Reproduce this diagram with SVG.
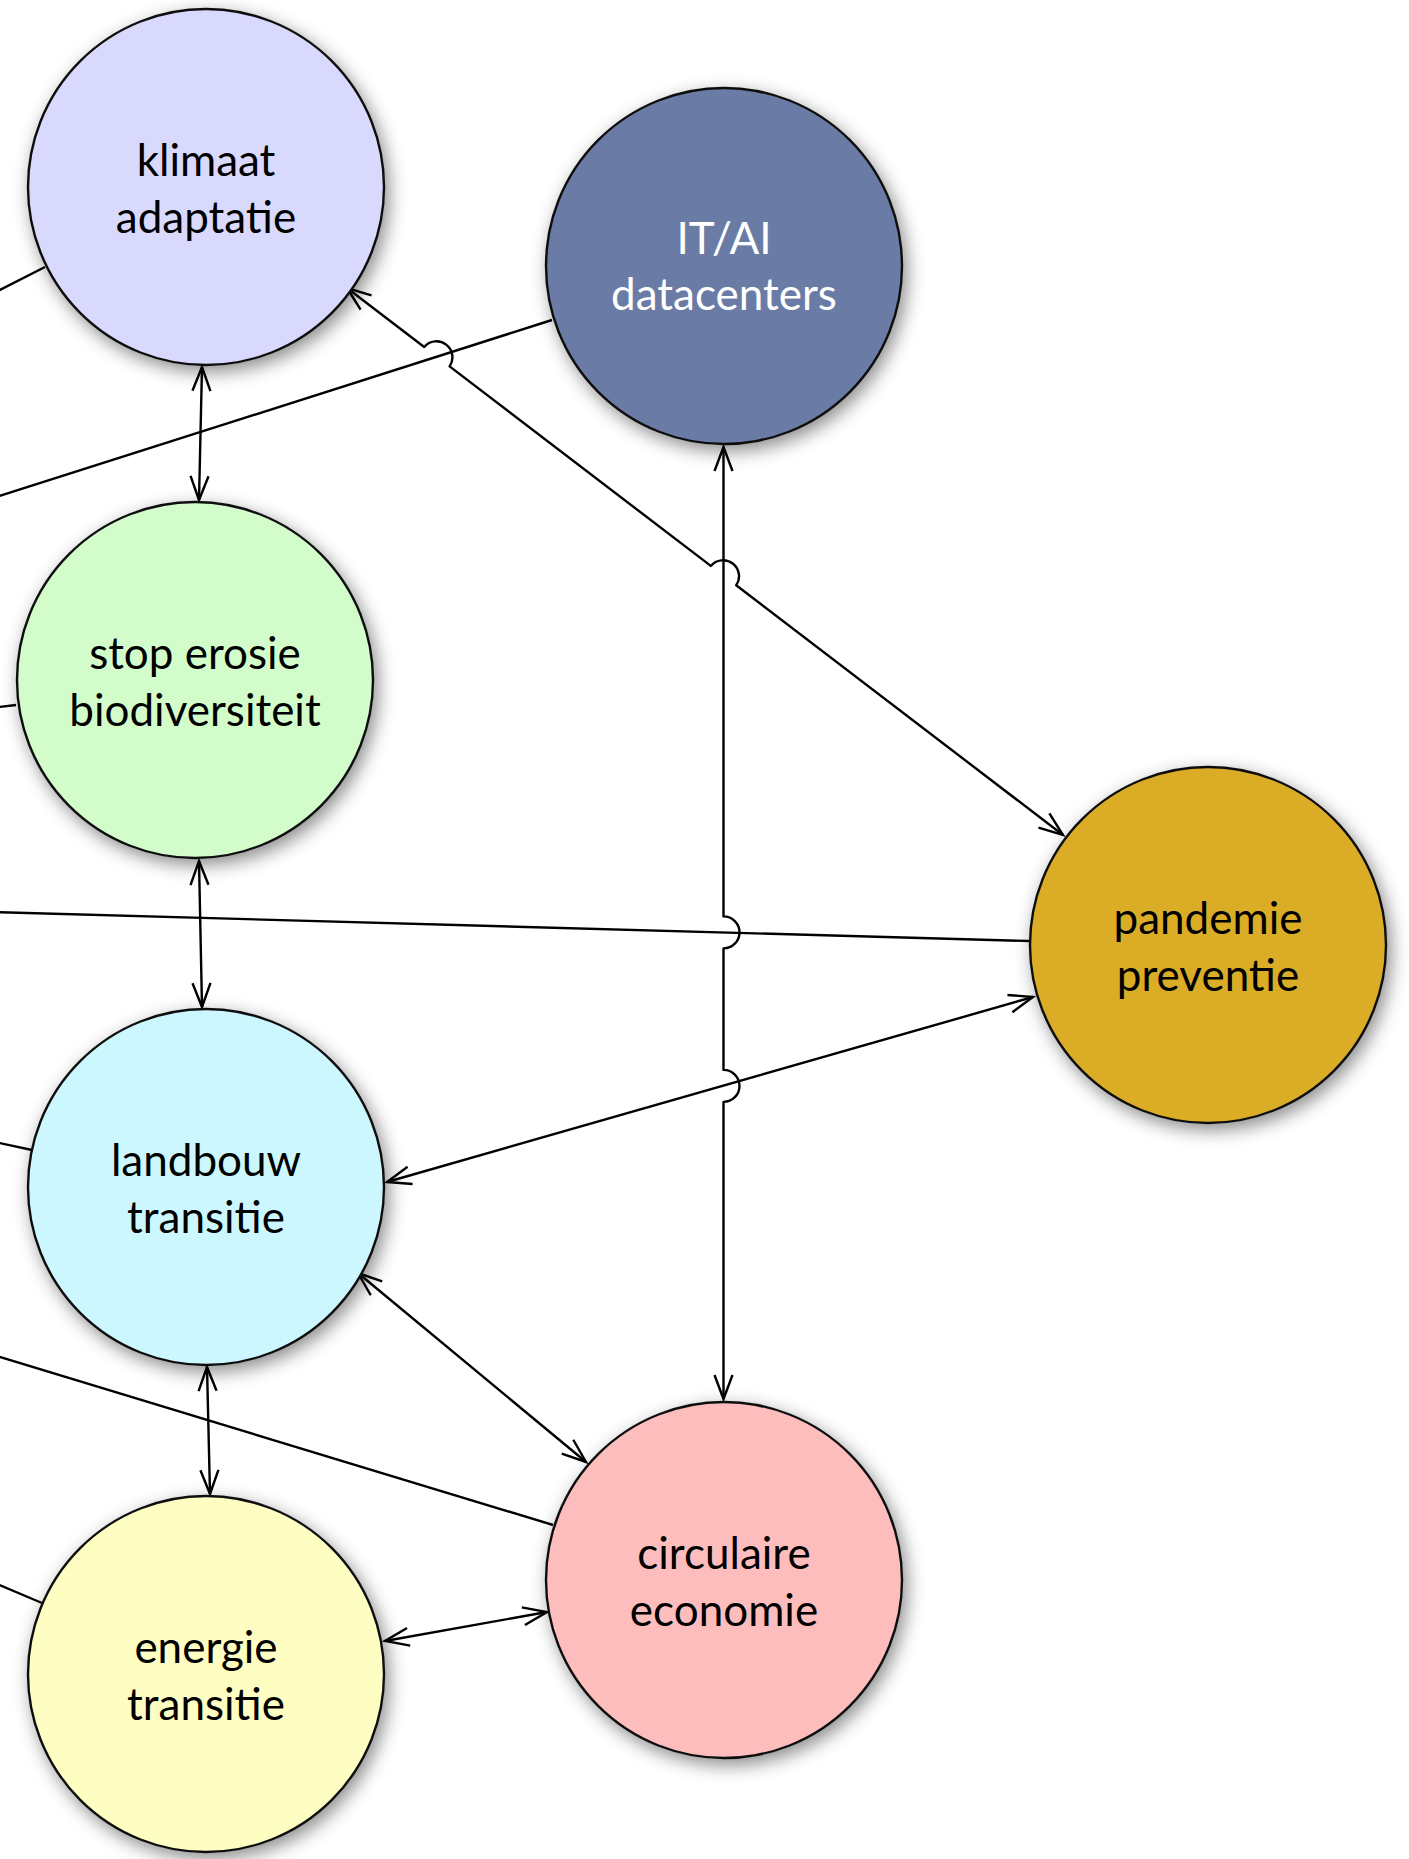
<svg xmlns="http://www.w3.org/2000/svg" width="1409" height="1859" viewBox="0 0 1409 1859">
  <defs>
    <style>
      .node { stroke: #111; stroke-width: 2.4; filter: url(#shadow); }
      .lbl { font-family: Lato, "Open Sans", sans-serif; font-size: 44px; text-anchor: middle; fill: #000; }
      .lbl.light { fill: #fff; }
      .edge { fill: none; stroke: #000; stroke-width: 2.4; stroke-linejoin: round; }
      .arr { marker-start: url(#ah); marker-end: url(#ah); }
    </style>
    <filter id="shadow" x="-30%" y="-30%" width="160%" height="160%">
      <feDropShadow dx="4" dy="6" stdDeviation="9" flood-color="#000" flood-opacity="0.45"/>
    </filter>
    <marker id="ah" markerUnits="userSpaceOnUse" viewBox="-28 -12 30 24" refX="0" refY="0" markerWidth="30" markerHeight="24" orient="auto-start-reverse" overflow="visible">
      <path d="M-24,-9 L0,0 L-24,9" fill="none" stroke="#000" stroke-width="2.4" stroke-linejoin="miter"/>
    </marker>
  </defs>
  <rect width="1409" height="1859" fill="#fff"/>

  <g id="connectors">
    <path class="edge" d="M-10,295 L45,267"/>
    <path class="edge" d="M552,320 L-10,499"/>
    <path class="edge" d="M-10,708 L16,705"/>
    <path class="edge" d="M-10,912 L1029,941"/>
    <path class="edge" d="M-10,1141 L32,1150"/>
    <path class="edge" d="M-10,1354 L553,1525"/>
    <path class="edge" d="M-10,1581 L42,1603"/>
    <path class="edge arr" d="M202,367 L199,500"/>
    <path class="edge arr" d="M199,861 L202,1007"/>
    <path class="edge arr" d="M207,1367 L210,1494"/>
    <path class="edge arr" d="M358,1273 L586,1462"/>
    <path class="edge arr" d="M387,1182 L1033,997"/>
    <path class="edge arr" d="M385,1641 L547,1612"/>
    <path class="edge arr" d="M347,288 L424.2,347 A16,16 0 0 1 449.6,366.4 L710.8,565.9 A16,16 0 0 1 736.2,585.3 L1063,835"/>
    <path class="edge arr" d="M723.5,447 L723.5,916.4 A16,16 0 0 1 723.5,948.4 L723.5,1069.9 A16,16 0 0 1 723.5,1101.9 L723.5,1399"/>
  </g>

  <g id="klimaat">
    <circle class="node" cx="206" cy="187" r="178" fill="#D9D9FE"/>
    <text class="lbl" x="206" y="176">klimaat</text>
    <text class="lbl" x="206" y="233">adaptatie</text>
  </g>
  <g id="itai">
    <circle class="node" cx="724" cy="266" r="178" fill="#6A7BA5"/>
    <text class="lbl light" x="724" y="254">IT/AI</text>
    <text class="lbl light" x="724" y="310">datacenters</text>
  </g>
  <g id="biodiversiteit">
    <circle class="node" cx="195" cy="680" r="178" fill="#D2FDCB"/>
    <text class="lbl" x="195" y="669">stop erosie</text>
    <text class="lbl" x="195" y="726">biodiversiteit</text>
  </g>
  <g id="pandemie">
    <circle class="node" cx="1208" cy="945" r="178" fill="#DBAD28"/>
    <text class="lbl" x="1208" y="934">pandemie</text>
    <text class="lbl" x="1208" y="991">preventie</text>
  </g>
  <g id="landbouw">
    <circle class="node" cx="206" cy="1187" r="178" fill="#CCF7FE"/>
    <text class="lbl" x="206" y="1176">landbouw</text>
    <text class="lbl" x="206" y="1233">transitie</text>
  </g>
  <g id="circulaire">
    <circle class="node" cx="724" cy="1580" r="178" fill="#FEBDBD"/>
    <text class="lbl" x="724" y="1569">circulaire</text>
    <text class="lbl" x="724" y="1626">economie</text>
  </g>
  <g id="energie">
    <circle class="node" cx="206" cy="1674" r="178" fill="#FEFDC2"/>
    <text class="lbl" x="206" y="1663">energie</text>
    <text class="lbl" x="206" y="1720">transitie</text>
  </g>
</svg>
